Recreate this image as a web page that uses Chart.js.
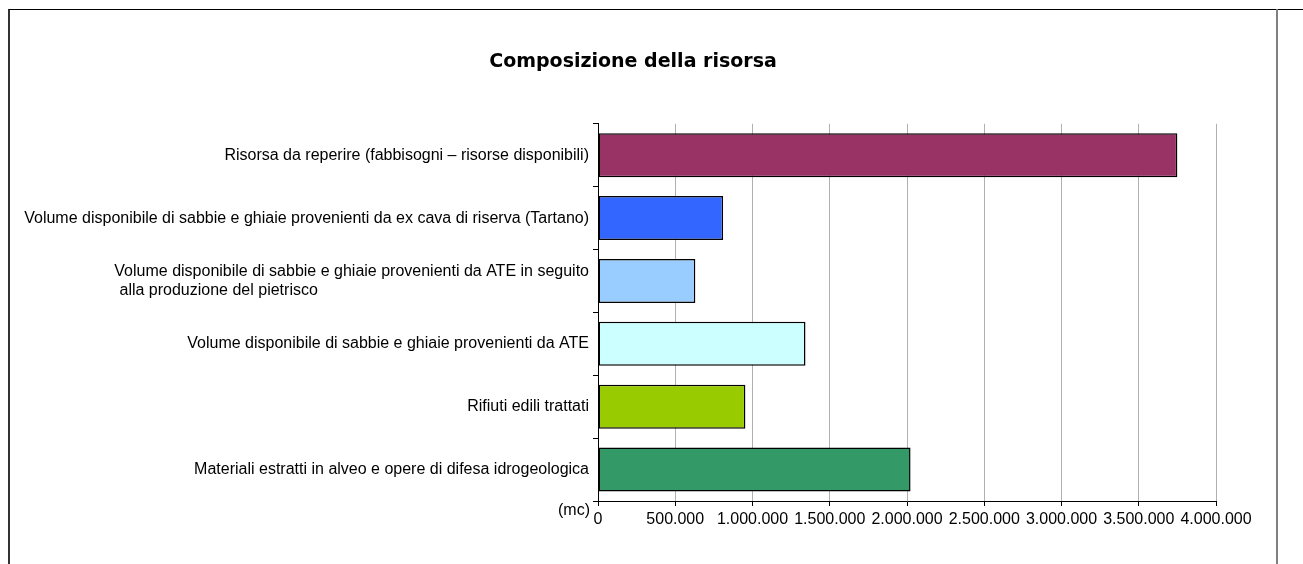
<!DOCTYPE html>
<html lang="it">
<head>
    <meta charset="UTF-8">
    <title>Composizione della risorsa</title>
    <style>
        body {
            margin: 0;
            background: #fff;
            font-family: "Liberation Sans", Arial, sans-serif;
        }

        .wrap {
            position: relative;
            width: 1303px;
            height: 564px;
            overflow: hidden;
        }

        #chart {
            position: absolute;
            left: 0;
            top: 0;
        }

        /* cornice del grafico */
        .frame {
            position: absolute;
            left: 8px;
            top: 9px;
            width: 1300px;
            height: 600px;
            border-left: 2px solid #333;
            border-top: 1px solid #000;
            pointer-events: none;
        }

        .frame-dx {
            position: absolute;
            left: 1276px;
            top: 9px;
            width: 0;
            height: 600px;
            border-left: 2px solid #808080;
            pointer-events: none;
        }
    </style>
    <script src="https://cdn.jsdelivr.net/npm/chart.js"></script>
</head>
<body>
    <div class="wrap">
        <canvas id="chart" width="1303" height="564"></canvas>
        <div class="frame"></div>
        <div class="frame-dx"></div>
    </div>

    <script>
        const titolo = 'Composizione della risorsa';
        const unita = '(mc)';

        const categorie = [
            'Risorsa da reperire (fabbisogni \u2013 risorse disponibili)',
            'Volume disponibile di sabbie e ghiaie provenienti da ex cava di riserva (Tartano)',
            ['Volume disponibile di sabbie e ghiaie provenienti da ATE in seguito', ' alla produzione del pietrisco'],
            'Volume disponibile di sabbie e ghiaie provenienti da ATE',
            'Rifiuti edili trattati',
            'Materiali estratti in alveo e opere di difesa idrogeologica'
        ];

        const valori = [3750000, 810000, 630000, 1343000, 954000, 2023000];

        const colori = ['#993366', '#3366FF', '#99CCFF', '#CCFFFF', '#99CC00', '#339966'];

        const etichetteX = ['0', '500.000', '1.000.000', '1.500.000', '2.000.000',
            '2.500.000', '3.000.000', '3.500.000', '4.000.000'];

        const fontEtichette = '16px "Liberation Sans"';

        // le righe successive di un'etichetta su due righe sono allineate a sinistra:
        // le allungo con spazi fino alla larghezza della prima riga
        const misura = document.createElement('canvas').getContext('2d');
        misura.font = fontEtichette;
        function allinea(label) {
            if (!Array.isArray(label)) return label;
            const w = misura.measureText(label[0]).width;
            return label.map((riga, i) => {
                if (i === 0) return riga;
                let r = riga;
                while (misura.measureText(r + ' ').width <= w) r += ' ';
                return r;
            });
        }

        // scritta (mc) a sinistra dello zero
        const unitaPlugin = {
            id: 'unita',
            afterDraw(chart) {
                const ctx = chart.ctx;
                const x = chart.scales.x;
                ctx.save();
                ctx.font = fontEtichette;
                ctx.fillStyle = '#000';
                ctx.textAlign = 'right';
                ctx.textBaseline = 'middle';
                ctx.fillText(unita, x.getPixelForValue(0) - 8, x.top + 10);
                ctx.restore();
            }
        };

        const ctx = document.getElementById('chart').getContext('2d');

        new Chart(ctx, {
            type: 'bar',
            data: {
                labels: categorie,
                datasets: [{
                    data: valori,
                    backgroundColor: colori,
                    borderColor: '#000',
                    borderWidth: 1.5,
                    borderSkipped: false,
                    barPercentage: 0.7,
                    categoryPercentage: 1
                }]
            },
            options: {
                indexAxis: 'y',
                responsive: false,
                animation: false,
                layout: {
                    padding: { left: 0, right: 37, top: 0, bottom: 0 }
                },
                plugins: {
                    legend: { display: false },
                    tooltip: { enabled: false },
                    title: {
                        display: true,
                        text: titolo,
                        color: '#000',
                        font: { family: '"DejaVu Sans"', size: 19, weight: 'bold' },
                        padding: { top: 51, bottom: 50 }
                    }
                },
                scales: {
                    x: {
                        min: 0,
                        max: 4000000,
                        afterFit(scale) { scale.height = 63; },
                        ticks: {
                            stepSize: 500000,
                            color: '#000',
                            padding: 4,
                            font: { family: '"Liberation Sans"', size: 16 },
                            callback: (v, i) => etichetteX[i]
                        },
                        grid: {
                            color: '#b0b0b0',
                            tickColor: '#000',
                            tickLength: 5
                        },
                        border: { color: '#000', width: 1 }
                    },
                    y: {
                        afterFit(scale) { scale.width = 598; },
                        ticks: {
                            color: '#000',
                            padding: 4,
                            font: { family: '"Liberation Sans"', size: 16, lineHeight: 1.15 },
                            callback: (v, i) => allinea(categorie[i])
                        },
                        grid: {
                            drawOnChartArea: false,
                            tickColor: '#000',
                            tickLength: 5
                        },
                        border: { color: '#000', width: 1 }
                    },
                    // asse vuoto a destra: solo margine
                    margine: {
                        type: 'linear',
                        position: 'right',
                        afterFit(scale) { scale.width = 50; },
                        ticks: { display: false },
                        grid: { display: false },
                        border: { display: false }
                    }
                }
            },
            plugins: [unitaPlugin]
        });
    </script>
</body>
</html>
